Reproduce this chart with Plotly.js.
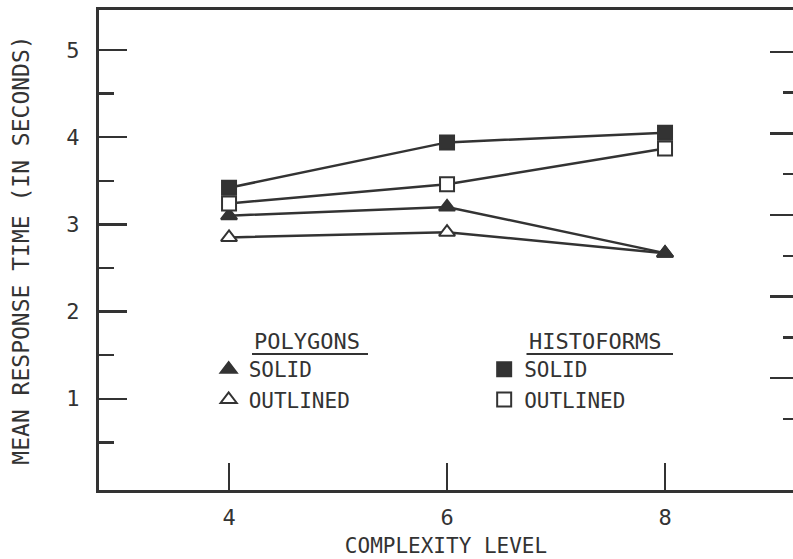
<!DOCTYPE html>
<html>
<head>
<meta charset="utf-8">
<script src="https://cdn.plot.ly/plotly-3.0.1.min.js"></script>
<style>html,body{margin:0;padding:0;background:#fff;}#chart{width:793px;height:559px;}</style>
</head>
<body>
<div id="chart"></div>
<script>
// Data
const levels = [4, 6, 8];
const polySolid = [3.10, 3.20, 2.67];
const polyOutlined = [2.85, 2.91, 2.67];
const histSolid = [3.42, 3.94, 4.05];
const histOutlined = [3.24, 3.46, 3.87];
const yTickVals = [1, 2, 3, 4, 5];
const yTickText = ['1', '2', '3', '4', '5'];
const yMinorVals = [0.5, 1.5, 2.5, 3.5, 4.5];
const xTickVals = [4, 6, 8];
const xTickText = ['4', '6', '8'];
const labels = {
  polyHead: 'POLYGONS', histHead: 'HISTOFORMS',
  solid: 'SOLID', outlined: 'OUTLINED',
  xTitle: 'COMPLEXITY LEVEL', yTitle: 'MEAN RESPONSE TIME (IN SECONDS)'
};

const INK = '#333333';
const FONT = 'DejaVu Sans Mono, monospace';

function lineTrace(y) {
  return {
    x: levels, y: y, type: 'scatter', mode: 'lines',
    line: {color: INK, width: 2.5}, showlegend: false, hoverinfo: 'skip'
  };
}
function markerTrace(y, symbol, filled, legend, rank) {
  return {
    x: levels, y: y, type: 'scatter', mode: 'markers',
    name: filled ? labels.solid : labels.outlined,
    legend: legend, legendrank: rank,
    marker: {symbol: symbol, size: 14, color: filled ? INK : '#ffffff',
             line: {color: INK, width: 2}},
    hoverinfo: 'x+y'
  };
}

const traces = [
  lineTrace(polyOutlined), lineTrace(polySolid),
  lineTrace(histOutlined), lineTrace(histSolid),
  markerTrace(polyOutlined, 'triangle-up', false, 'legend', 2),
  markerTrace(polySolid, 'triangle-up', true, 'legend', 1),
  markerTrace(histOutlined, 'square', false, 'legend2', 2),
  markerTrace(histSolid, 'square', true, 'legend2', 1),
  {x: [], y: [], yaxis: 'y2', type: 'scatter', mode: 'markers', showlegend: false, hoverinfo: 'skip'}
];

const legendCommon = {
  font: {family: FONT, size: 21, color: INK},
  bgcolor: 'rgba(0,0,0,0)', borderwidth: 0,
  xanchor: 'left', yanchor: 'top', orientation: 'v',
  itemclick: false, itemdoubleclick: false
};

const headFont = {family: FONT, size: 22, color: INK};

const layout = {
  width: 793, height: 559,
  margin: {l: 99, r: 0, t: 10, b: 69},
  paper_bgcolor: '#ffffff', plot_bgcolor: '#ffffff',
  font: {family: FONT, color: INK},
  showlegend: true,
  legend: Object.assign({}, legendCommon, {x: 0.158, y: 0.2937}),
  legend2: Object.assign({}, legendCommon, {x: 0.555, y: 0.2937}),
  xaxis: {
    range: [2.807, 9.174], showgrid: false, zeroline: false,
    showline: true, linecolor: INK, linewidth: 3, mirror: true,
    tickvals: xTickVals, ticktext: xTickText,
    ticks: 'inside', ticklen: 27, tickwidth: 2.5, tickcolor: INK,
    ticklabelstandoff: 6,
    tickfont: {family: FONT, size: 22, color: INK},
    title: {text: labels.xTitle, font: {family: FONT, size: 21, color: INK}, standoff: 9},
    automargin: false, fixedrange: true
  },
  yaxis: {
    range: [-0.046, 5.458], showgrid: false, zeroline: false,
    showline: true, linecolor: INK, linewidth: 3,
    tickvals: yTickVals, ticktext: yTickText,
    ticks: 'inside', ticklen: 28, tickwidth: 2.5, tickcolor: INK,
    ticklabelstandoff: 12,
    tickfont: {family: FONT, size: 22, color: INK},
    minor: {tickvals: yMinorVals, ticks: 'inside', ticklen: 15, tickwidth: 2.5, tickcolor: INK, showgrid: false},
    title: {text: labels.yTitle, font: {family: FONT, size: 23, color: INK}, standoff: 31},
    automargin: false, fixedrange: true
  },
  yaxis2: {
    overlaying: 'y', side: 'right', range: [-0.374, 5.515],
    showgrid: false, zeroline: false, showline: false, showticklabels: false,
    tickvals: yTickVals, ticks: 'inside', ticklen: 23, tickwidth: 2.5, tickcolor: INK,
    minor: {tickvals: yMinorVals, ticks: 'inside', ticklen: 10, tickwidth: 2.5, tickcolor: INK, showgrid: false},
    fixedrange: true
  },
  annotations: [
    {text: labels.polyHead, xref: 'paper', yref: 'paper', x: 0.2205, y: 0.3095,
     xanchor: 'left', yanchor: 'middle', showarrow: false, font: headFont},
    {text: labels.histHead, xref: 'paper', yref: 'paper', x: 0.616, y: 0.3095,
     xanchor: 'left', yanchor: 'middle', showarrow: false, font: headFont}
  ],
  shapes: [
    {type: 'line', xref: 'paper', yref: 'paper', x0: 0.2205, x1: 0.3876, y0: 0.2833, y1: 0.2833,
     line: {color: INK, width: 2}},
    {type: 'line', xref: 'paper', yref: 'paper', x0: 0.6160, x1: 0.8271, y0: 0.2833, y1: 0.2833,
     line: {color: INK, width: 2}}
  ]
};

Plotly.newPlot('chart', traces, layout, {displayModeBar: false, staticPlot: true});
</script>
</body>
</html>
